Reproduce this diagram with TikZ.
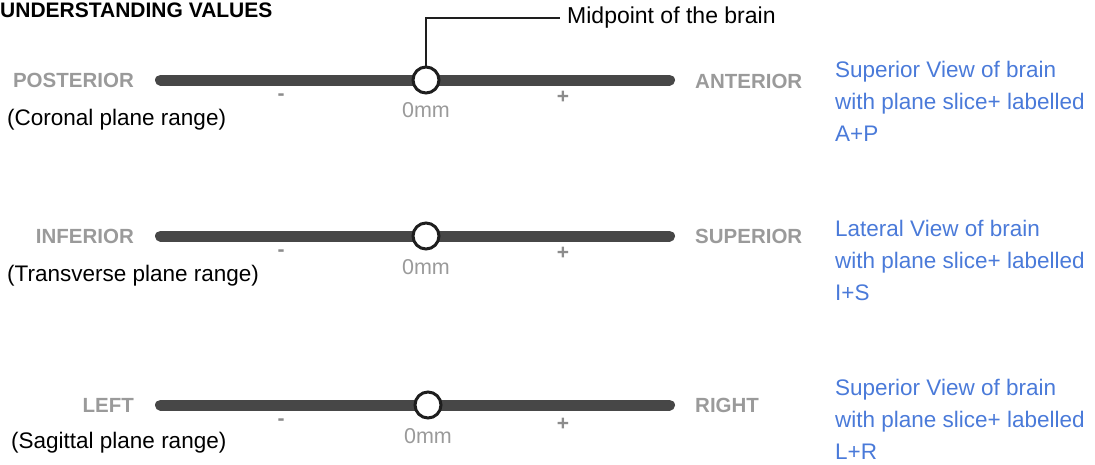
\documentclass[tikz,border=0pt]{standalone}
\usepackage{fontspec}
\setmainfont{Liberation Sans}
\definecolor{barc}{HTML}{474747}
\definecolor{lblgray}{HTML}{9A9A9A}
\definecolor{tickgray}{HTML}{8C8C8C}
\definecolor{bluetxt}{HTML}{4A7AD9}
\definecolor{knobc}{HTML}{1E1E1E}
\tikzset{
  bar/.style={line width=11pt, line cap=round, draw=barc},
  knob/.style={circle, draw=knobc, line width=3pt, fill=white, minimum size=26pt, inner sep=0pt},
  endlbl/.style={font=\fontsize{20.5}{24}\selectfont\bfseries, text=lblgray, inner sep=0pt},
  rangelbl/.style={font=\fontsize{22.5}{26}\selectfont, text=black, inner sep=0pt, anchor=west},
  zerolbl/.style={font=\fontsize{21.5}{24}\selectfont, text=lblgray, inner sep=0pt},
  signlbl/.style={font=\fontsize{21}{24}\selectfont\bfseries, text=tickgray, inner sep=0pt},
  bluelbl/.style={font=\fontsize{22.5}{32}\selectfont, text=bluetxt, inner sep=0pt, align=left, anchor=north west},
  leader/.style={draw=knobc, line width=1.6pt},
}
\begin{document}
\begin{tikzpicture}[x=1pt,y=-1pt]
\useasboundingbox (0,0) rectangle (1095,464);
\node[anchor=west, inner sep=0pt, font=\fontsize{21}{24}\selectfont\bfseries] (title) at (0,10) {UNDERSTANDING VALUES};

% slider 1
\coordinate (b1l) at (160.5,80);
\coordinate (b1r) at (669.5,80);
\draw[bar] (b1l) -- (b1r);
\node[knob] (k1) at (426,80) {};
\node[endlbl, anchor=east] (post) at (134,80) {POSTERIOR};
\node[endlbl, anchor=west] (ant) at (695,81) {ANTERIOR};
\node[rangelbl] (cor) at (7,120) {(Coronal plane range)};
\node[signlbl] (m1) at (281,97) {-};
\node[signlbl] (p1) at (563,97) {+};
\node[zerolbl] (z1) at (426,110) {0mm};
\node[anchor=west, inner sep=0pt, font=\fontsize{23}{26}\selectfont] (mid) at (567,18) {Midpoint of the brain};
\draw[leader, shorten >=7pt] (k1.north) |- (mid.west);
\node[bluelbl] (v1) at (835,61) {Superior View of brain\\with plane slice+ labelled\\A+P};

% slider 2
\coordinate (b2l) at (160.5,236);
\coordinate (b2r) at (669.5,236);
\draw[bar] (b2l) -- (b2r);
\node[knob] (k2) at (426,236) {};
\node[endlbl, anchor=east] (inf) at (134,236) {INFERIOR};
\node[endlbl, anchor=west] (sup) at (695,236) {SUPERIOR};
\node[rangelbl] (tra) at (7,276) {(Transverse plane range)};
\node[signlbl] (m2) at (281,253) {-};
\node[signlbl] (p2) at (563,253) {+};
\node[zerolbl] (z2) at (426,267) {0mm};
\node[bluelbl] (v2) at (835,220) {Lateral View of brain\\with plane slice+ labelled\\I+S};

% slider 3
\coordinate (b3l) at (160.5,405);
\coordinate (b3r) at (669.5,405);
\draw[bar] (b3l) -- (b3r);
\node[knob] (k3) at (428,405) {};
\node[endlbl, anchor=east] (lft) at (134,405) {LEFT};
\node[endlbl, anchor=west] (rgt) at (695,405) {RIGHT};
\node[rangelbl] (sag) at (11,443) {(Sagittal plane range)};
\node[signlbl] (m3) at (281,422) {-};
\node[signlbl] (p3) at (563,424) {+};
\node[zerolbl] (z3) at (428,436) {0mm};
\node[bluelbl] (v3) at (835,379) {Superior View of brain\\with plane slice+ labelled\\L+R};
\end{tikzpicture}
\end{document}
